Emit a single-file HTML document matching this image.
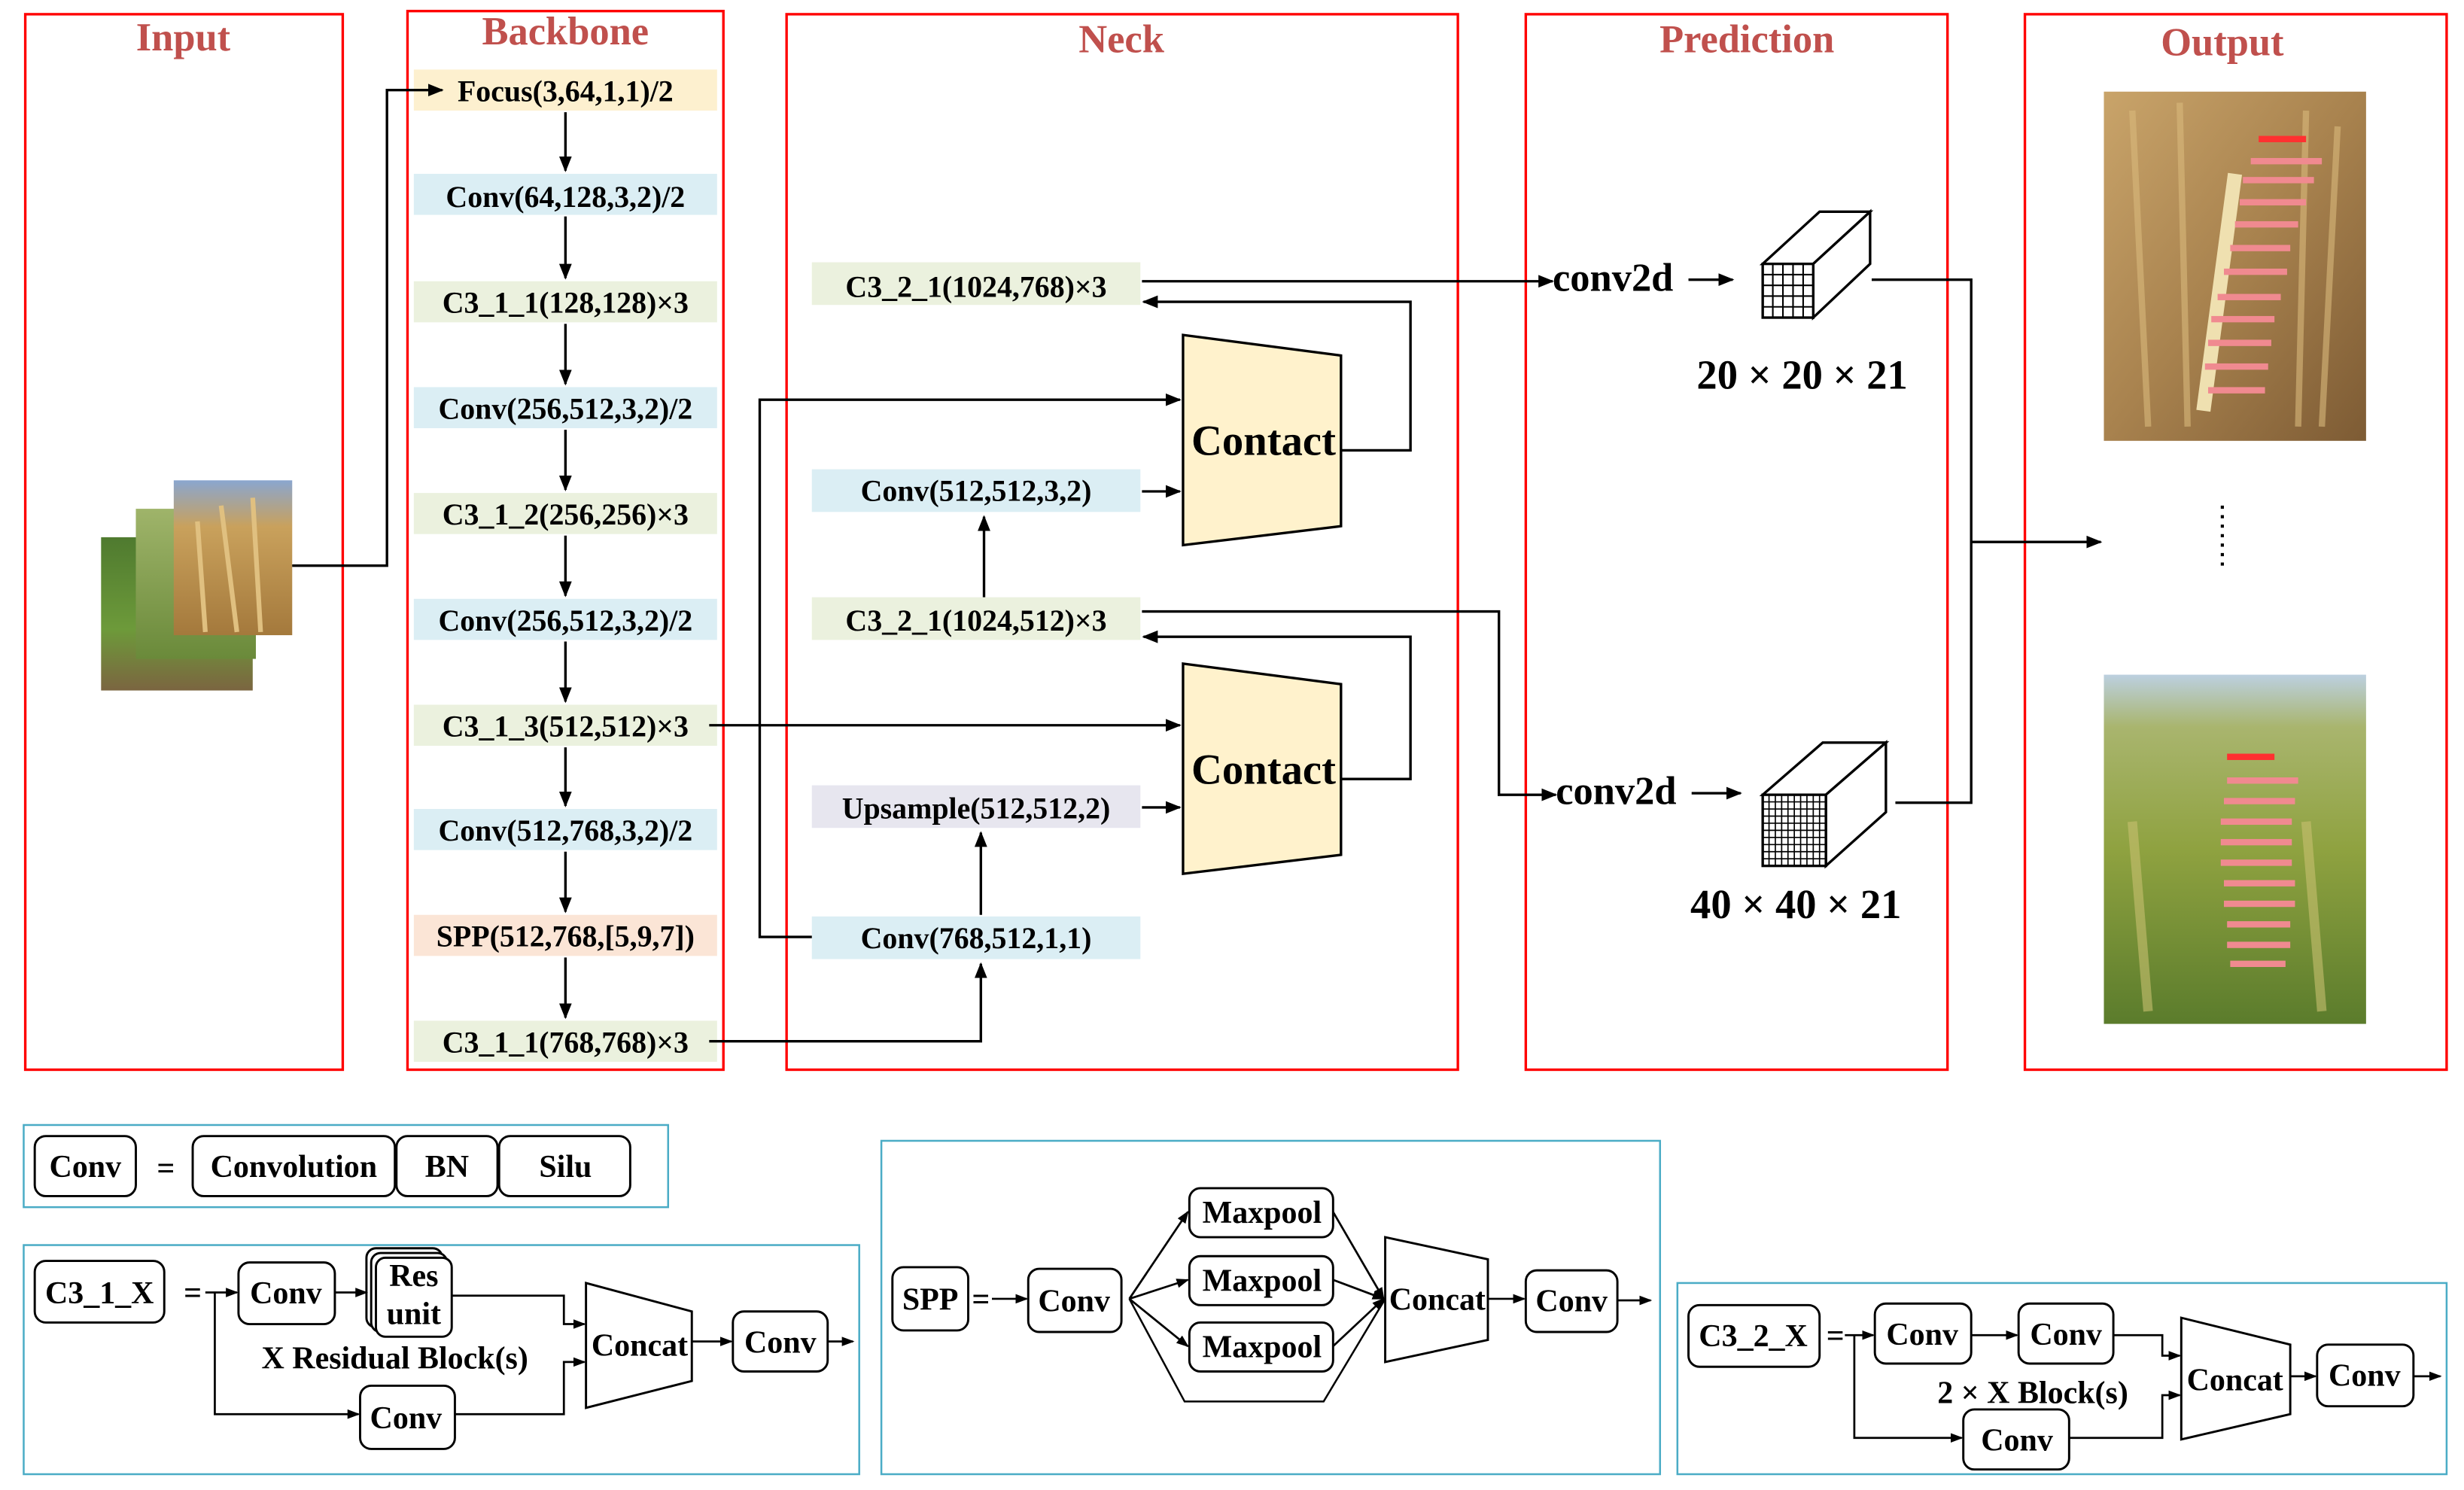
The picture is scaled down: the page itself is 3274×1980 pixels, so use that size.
<!DOCTYPE html>
<html><head><meta charset="utf-8"><style>
html,body{margin:0;padding:0;background:#fff}
svg{display:block}
text{font-family:"Liberation Serif",serif}
</style></head><body>
<svg width="3274" height="1980" viewBox="0 0 1560 943" preserveAspectRatio="none" xmlns="http://www.w3.org/2000/svg">
<defs>
<marker id="a" markerWidth="10" markerHeight="10" refX="9" refY="5" orient="auto" markerUnits="userSpaceOnUse"><path d="M0,1 L10,5 L0,9 z" fill="#000"/></marker>
<marker id="s" markerWidth="8" markerHeight="8" refX="7" refY="4" orient="auto" markerUnits="userSpaceOnUse"><path d="M0,1 L8,4 L0,7 z" fill="#000"/></marker>
<linearGradient id="wheat" x1="0" y1="0" x2="0" y2="1"><stop offset="0" stop-color="#8aa6cf"/><stop offset="0.3" stop-color="#c9a15c"/><stop offset="1" stop-color="#a4793c"/></linearGradient>
<linearGradient id="green" x1="0" y1="0" x2="0" y2="1"><stop offset="0" stop-color="#4f7a2f"/><stop offset="0.6" stop-color="#6d9a3a"/><stop offset="1" stop-color="#7b6540"/></linearGradient>
<linearGradient id="green2" x1="0" y1="0" x2="0" y2="1"><stop offset="0" stop-color="#9fb46a"/><stop offset="1" stop-color="#6a8a3a"/></linearGradient>
<linearGradient id="out1" x1="0" y1="0" x2="1" y2="1"><stop offset="0" stop-color="#c9a46a"/><stop offset="0.5" stop-color="#a8824e"/><stop offset="1" stop-color="#7d5b34"/></linearGradient>
<linearGradient id="out2" x1="0" y1="0" x2="0" y2="1"><stop offset="0" stop-color="#bcd0e0"/><stop offset="0.15" stop-color="#a9b56e"/><stop offset="0.5" stop-color="#8fa240"/><stop offset="1" stop-color="#5b7c2c"/></linearGradient>
</defs>

<!-- Red section boxes -->
<g fill="none" stroke="#ff0000" stroke-width="1.6">
<rect x="16" y="9" width="201" height="668"/>
<rect x="258" y="7" width="200" height="670"/>
<rect x="498" y="9" width="425" height="668"/>
<rect x="966" y="9" width="267" height="668"/>
<rect x="1282" y="9" width="267" height="668"/>
</g>
<g fill="#c0504d" font-weight="bold" font-size="25" text-anchor="middle">
<text x="116" y="32">Input</text>
<text x="358" y="28">Backbone</text>
<text x="710" y="33">Neck</text>
<text x="1106" y="33">Prediction</text>
<text x="1407" y="35">Output</text>
</g>

<!-- Input images -->
<rect x="64" y="340" width="96" height="97" fill="url(#green)"/>
<rect x="86" y="322" width="76" height="95" fill="url(#green2)"/>
<rect x="110" y="304" width="75" height="98" fill="url(#wheat)"/>
<path d="M140,320 L150,400 M160,315 L165,400 M125,330 L130,400" stroke="#e0c080" stroke-width="3"/>

<!-- Backbone items -->
<g font-weight="bold" font-size="19" text-anchor="middle">
<rect x="262" y="44" width="192" height="26" fill="#fdf0cf"/><text x="358" y="64">Focus(3,64,1,1)/2</text>
<rect x="262" y="110" width="192" height="26" fill="#dbeef4"/><text x="358" y="131">Conv(64,128,3,2)/2</text>
<rect x="262" y="178" width="192" height="26" fill="#ebf1de"/><text x="358" y="198">C3_1_1(128,128)×3</text>
<rect x="262" y="245" width="192" height="26" fill="#dbeef4"/><text x="358" y="265">Conv(256,512,3,2)/2</text>
<rect x="262" y="312" width="192" height="26" fill="#ebf1de"/><text x="358" y="332">C3_1_2(256,256)×3</text>
<rect x="262" y="379" width="192" height="26" fill="#dbeef4"/><text x="358" y="399">Conv(256,512,3,2)/2</text>
<rect x="262" y="446" width="192" height="26" fill="#ebf1de"/><text x="358" y="466">C3_1_3(512,512)×3</text>
<rect x="262" y="512" width="192" height="26" fill="#dbeef4"/><text x="358" y="532">Conv(512,768,3,2)/2</text>
<rect x="262" y="579" width="192" height="26" fill="#fbe5d6"/><text x="358" y="599">SPP(512,768,[5,9,7])</text>
<rect x="262" y="646" width="192" height="26" fill="#ebf1de"/><text x="358" y="666">C3_1_1(768,768)×3</text>
</g>
<g stroke="#000" stroke-width="1.6" marker-end="url(#a)">
<line x1="358" y1="71" x2="358" y2="108"/>
<line x1="358" y1="137" x2="358" y2="176"/>
<line x1="358" y1="205" x2="358" y2="243"/>
<line x1="358" y1="272" x2="358" y2="310"/>
<line x1="358" y1="339" x2="358" y2="377"/>
<line x1="358" y1="406" x2="358" y2="444"/>
<line x1="358" y1="473" x2="358" y2="510"/>
<line x1="358" y1="539" x2="358" y2="577"/>
<line x1="358" y1="606" x2="358" y2="644"/>
</g>

<!-- Neck items -->
<g font-weight="bold" font-size="19" text-anchor="middle">
<rect x="514" y="166" width="208" height="27" fill="#ebf1de"/><text x="618" y="188">C3_2_1(1024,768)×3</text>
<rect x="514" y="297" width="208" height="27" fill="#dbeef4"/><text x="618" y="317">Conv(512,512,3,2)</text>
<rect x="514" y="378" width="208" height="27" fill="#ebf1de"/><text x="618" y="399">C3_2_1(1024,512)×3</text>
<rect x="514" y="497" width="208" height="27" fill="#e7e6ef"/><text x="618" y="518">Upsample(512,512,2)</text>
<rect x="514" y="580" width="208" height="27" fill="#dbeef4"/><text x="618" y="600">Conv(768,512,1,1)</text>
</g>
<g fill="#fff2cc" stroke="#000" stroke-width="1.6">
<polygon points="749,212 849,225 849,333 749,345"/>
<polygon points="749,420 849,433 849,541 749,553"/>
</g>
<g font-weight="bold" font-size="27" text-anchor="middle">
<text x="800" y="288">Contact</text>
<text x="800" y="496">Contact</text>
</g>

<g stroke="#000" stroke-width="1.6" fill="none" marker-end="url(#a)">
<polyline points="185,358 245,358 245,57 280,57"/>
<polyline points="449,459 747,459"/>
<polyline points="449,659 621,659 621,610"/>
<polyline points="514,593 481,593 481,253 747,253"/>
<polyline points="621,579 621,527"/>
<polyline points="723,511 747,511"/>
<polyline points="849,493 893,493 893,403 724,403"/>
<polyline points="623,378 623,327"/>
<polyline points="723,311 747,311"/>
<polyline points="849,285 893,285 893,191 724,191"/>
<polyline points="723,178 983,178"/>
<polyline points="723,387 949,387 949,503 985,503"/>
<polyline points="1069,177 1097,177"/>
<polyline points="1071,502 1102,502"/>
<polyline points="1248,343 1330,343"/>
</g>
<g stroke="#000" stroke-width="1.6" fill="none">
<polyline points="1185,177 1248,177 1248,508 1200,508"/>
</g>
<g font-weight="bold" font-size="25">
<text x="983" y="184">conv2d</text>
<text x="985" y="509">conv2d</text>
</g>

<!-- Cube 1 -->
<g stroke="#000" stroke-width="1.6" fill="#fff">
<polygon points="1116,167 1152,134 1184,134 1148,167"/>
<polygon points="1148,167 1184,134 1184,167 1148,201"/>
<rect x="1116" y="167" width="32" height="34"/>
</g>
<g stroke="#000" stroke-width="1">
<line x1="1122.4" y1="167" x2="1122.4" y2="201"/><line x1="1128.8" y1="167" x2="1128.8" y2="201"/><line x1="1135.2" y1="167" x2="1135.2" y2="201"/><line x1="1141.6" y1="167" x2="1141.6" y2="201"/>
<line x1="1116" y1="173.8" x2="1148" y2="173.8"/><line x1="1116" y1="180.6" x2="1148" y2="180.6"/><line x1="1116" y1="187.4" x2="1148" y2="187.4"/><line x1="1116" y1="194.2" x2="1148" y2="194.2"/>
</g>
<!-- Cube 2 -->
<g stroke="#000" stroke-width="1.6" fill="#fff">
<polygon points="1116,503 1154,470 1194,470 1156,503"/>
<polygon points="1156,503 1194,470 1194,514 1156,548"/>
<rect x="1116" y="503" width="40" height="45"/>
</g>
<g stroke="#000" stroke-width="0.8">
<line x1="1120" y1="503" x2="1120" y2="548"/><line x1="1124" y1="503" x2="1124" y2="548"/><line x1="1128" y1="503" x2="1128" y2="548"/><line x1="1132" y1="503" x2="1132" y2="548"/><line x1="1136" y1="503" x2="1136" y2="548"/><line x1="1140" y1="503" x2="1140" y2="548"/><line x1="1144" y1="503" x2="1144" y2="548"/><line x1="1148" y1="503" x2="1148" y2="548"/><line x1="1152" y1="503" x2="1152" y2="548"/>
<line x1="1116" y1="507.5" x2="1156" y2="507.5"/><line x1="1116" y1="512" x2="1156" y2="512"/><line x1="1116" y1="516.5" x2="1156" y2="516.5"/><line x1="1116" y1="521" x2="1156" y2="521"/><line x1="1116" y1="525.5" x2="1156" y2="525.5"/><line x1="1116" y1="530" x2="1156" y2="530"/><line x1="1116" y1="534.5" x2="1156" y2="534.5"/><line x1="1116" y1="539" x2="1156" y2="539"/><line x1="1116" y1="543.5" x2="1156" y2="543.5"/>
</g>
<g font-weight="bold" font-size="26" text-anchor="middle">
<text x="1141" y="246">20 × 20 × 21</text>
<text x="1137" y="581">40 × 40 × 21</text>
</g>

<!-- Output images -->
<rect x="1332" y="58" width="166" height="221" fill="url(#out1)"/>
<path d="M1350,70 L1360,270 M1380,65 L1385,270 M1460,70 L1455,270 M1480,80 L1470,270" stroke="#d9b97c" stroke-width="4" opacity="0.6"/>
<path d="M1415,110 L1395,260" stroke="#efe0b0" stroke-width="9"/>
<g fill="#f08a90">
<rect x="1430" y="86" width="30" height="4" fill="#ff3030"/>
<rect x="1425" y="100" width="45" height="4"/><rect x="1420" y="112" width="45" height="4"/><rect x="1418" y="126" width="42" height="4"/><rect x="1415" y="140" width="40" height="4"/><rect x="1412" y="155" width="38" height="4"/><rect x="1408" y="170" width="40" height="4"/><rect x="1404" y="186" width="40" height="4"/><rect x="1400" y="200" width="40" height="4"/><rect x="1398" y="215" width="40" height="4"/><rect x="1396" y="230" width="40" height="4"/><rect x="1398" y="245" width="36" height="4"/>
</g>
<rect x="1332" y="427" width="166" height="221" fill="url(#out2)"/>
<path d="M1350,520 L1360,640 M1460,520 L1470,640" stroke="#c8c070" stroke-width="6" opacity="0.6"/>
<g fill="#f08a90">
<rect x="1410" y="477" width="30" height="4" fill="#ff3030"/>
<rect x="1410" y="492" width="45" height="4"/><rect x="1408" y="505" width="45" height="4"/><rect x="1406" y="518" width="45" height="4"/><rect x="1406" y="531" width="45" height="4"/><rect x="1406" y="544" width="45" height="4"/><rect x="1408" y="557" width="45" height="4"/><rect x="1408" y="570" width="45" height="4"/><rect x="1410" y="583" width="40" height="4"/><rect x="1410" y="596" width="40" height="4"/><rect x="1412" y="608" width="35" height="4"/>
</g>
<line x1="1407" y1="320" x2="1407" y2="358" stroke="#000" stroke-width="2" stroke-dasharray="2,4"/>

<!-- Bottom legend boxes -->
<g fill="none" stroke="#4bacc6" stroke-width="1.2">
<rect x="15" y="712" width="408" height="52"/>
<rect x="15" y="788" width="529" height="145"/>
<rect x="558" y="722" width="493" height="211"/>
<rect x="1062" y="812" width="487" height="121"/>
</g>
<g fill="#fff" stroke="#000" stroke-width="1.4">
<rect x="22" y="719" width="64" height="38" rx="7"/>
<rect x="122" y="719" width="128" height="38" rx="7"/>
<rect x="251" y="719" width="64" height="38" rx="7"/>
<rect x="316" y="719" width="83" height="38" rx="7"/>

<rect x="22" y="798" width="82" height="39" rx="7"/>
<rect x="151" y="799" width="61" height="39" rx="7"/>
<rect x="232" y="790" width="48" height="50" rx="6"/>
<rect x="235" y="793" width="48" height="50" rx="6"/>
<rect x="238" y="796" width="48" height="50" rx="6"/>
<rect x="228" y="877" width="60" height="40" rx="7"/>
<polygon points="371,812 438,830 438,874 371,891"/>
<rect x="464" y="830" width="60" height="38" rx="7"/>

<rect x="565" y="802" width="48" height="40" rx="7"/>
<rect x="651" y="803" width="59" height="40" rx="7"/>
<rect x="753" y="752" width="91" height="31" rx="7"/>
<rect x="753" y="795" width="91" height="31" rx="7"/>
<rect x="753" y="837" width="91" height="31" rx="7"/>
<polygon points="877,783 942,797 942,848 877,862"/>
<rect x="966" y="804" width="58" height="39" rx="7"/>

<rect x="1069" y="826" width="83" height="39" rx="7"/>
<rect x="1187" y="825" width="61" height="38" rx="7"/>
<rect x="1278" y="825" width="60" height="38" rx="7"/>
<rect x="1243" y="892" width="67" height="38" rx="7"/>
<polygon points="1381,834 1450,851 1450,895 1381,911"/>
<rect x="1467" y="851" width="61" height="39" rx="7"/>
</g>
<g font-size="20" text-anchor="middle" font-weight="bold">
<text x="54" y="745">Conv</text>
<text x="105" y="746">=</text>
<text x="186" y="745">Convolution</text>
<text x="283" y="745">BN</text>
<text x="358" y="745">Silu</text>

<text x="63" y="825">C3_1_X</text>
<text x="122" y="825">=</text>
<text x="181" y="825">Conv</text>
<text x="262" y="814">Res</text>
<text x="262" y="838">unit</text>
<text x="250" y="866">X Residual Block(s)</text>
<text x="257" y="904">Conv</text>
<text x="405" y="858">Concat</text>
<text x="494" y="856">Conv</text>

<text x="589" y="829">SPP</text>
<text x="621" y="829">=</text>
<text x="680" y="830">Conv</text>
<text x="799" y="774">Maxpool</text>
<text x="799" y="817">Maxpool</text>
<text x="799" y="859">Maxpool</text>
<text x="910" y="829">Concat</text>
<text x="995" y="830">Conv</text>

<text x="1110" y="852">C3_2_X</text>
<text x="1162" y="852">=</text>
<text x="1217" y="851">Conv</text>
<text x="1308" y="851">Conv</text>
<text x="1287" y="888">2 × X Block(s)</text>
<text x="1277" y="918">Conv</text>
<text x="1415" y="880">Concat</text>
<text x="1497" y="877">Conv</text>
</g>
<g stroke="#000" stroke-width="1.3" fill="none" marker-end="url(#s)">
<polyline points="130,818 150,818"/>
<polyline points="212,818 232,818"/>
<polyline points="286,820 357,820 357,838 370,838"/>
<polyline points="136,818 136,895 227,895"/>
<polyline points="288,895 357,895 357,862 370,862"/>
<polyline points="438,849 463,849"/>
<polyline points="524,849 540,849"/>

<polyline points="628,822 650,822"/>
<polyline points="715,822 752,767"/>
<polyline points="715,822 752,810"/>
<polyline points="715,822 752,852"/>
<polyline points="844,767 876,822"/>
<polyline points="844,810 876,822"/>
<polyline points="844,852 876,822"/>
<polyline points="942,822 965,822"/>
<polyline points="1024,823 1045,823"/>

<polyline points="1168,845 1186,845"/>
<polyline points="1248,845 1277,845"/>
<polyline points="1338,845 1369,845 1369,858 1380,858"/>
<polyline points="1174,845 1174,910 1242,910"/>
<polyline points="1310,910 1369,910 1369,883 1380,883"/>
<polyline points="1450,871 1466,871"/>
<polyline points="1528,871 1545,871"/>
</g>
<polyline points="715,822 750,887 838,887 877,822" stroke="#000" stroke-width="1.2" fill="none"/>
</svg>
</body></html>
